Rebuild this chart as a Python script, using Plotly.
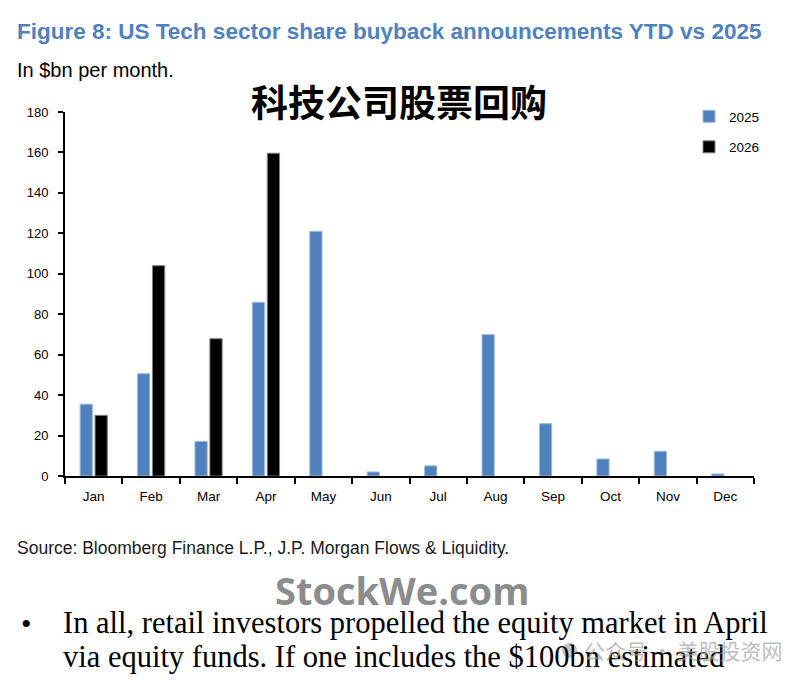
import plotly.graph_objects as go

months = ["Jan", "Feb", "Mar", "Apr", "May", "Jun", "Jul", "Aug", "Sep", "Oct", "Nov", "Dec"]
y2025 = [35.5, 50.6, 17.1, 85.9, 121.0, 2.0, 5.0, 69.9, 25.9, 8.4, 12.2, 1.0]
y2026 = [30.0, 104.0, 67.9, 159.6, None, None, None, None, None, None, None, None]
yticks = [0, 20, 40, 60, 80, 100, 120, 140, 160, 180]

OFF = 8  # page body margin
W, H = 806 - OFF, 683 - OFF
# plot area in reference-page pixels
L, R, T, B = 65, 754, 112, 476

def px(x):
    return (x - L) / (R - L)

def py(y):
    return (B - y) / (B - T)

SANS = "Liberation Sans, Arial"
SERIF = "Liberation Serif, Times New Roman"

fig = go.Figure()
fig.add_trace(go.Bar(x=months, y=y2025, name="2025", legendgroup="a",
                     marker=dict(color="#4F81BD", line=dict(color="#9DB9DE", width=1))))
fig.add_trace(go.Bar(x=months, y=y2026, name="2026", legendgroup="b",
                     marker=dict(color="#000000", line=dict(color="#7F7F7F", width=1))))

fig.update_layout(
    width=W, height=H,
    margin=dict(l=L - OFF, r=W - (R - OFF), t=T - OFF, b=H - (B - OFF), pad=0),
    paper_bgcolor="white", plot_bgcolor="white",
    barmode="group", bargap=0.48, bargroupgap=0.18,
    font=dict(family=SANS, size=13, color="#000000"),
    showlegend=True,
    legend=dict(x=px(689), y=py(101), xanchor="left", yanchor="top",
                font=dict(family=SANS, size=13.5, color="#000"),
                bgcolor="rgba(0,0,0,0)", itemwidth=30, tracegroupgap=10),
    xaxis=dict(showline=True, linecolor="black", linewidth=2, ticks="outside",
               tickson="boundaries", ticklen=6, tickwidth=2, tickcolor="black",
               showgrid=False, tickfont=dict(family=SANS, size=13.5),
               ticklabelstandoff=7),
    yaxis=dict(range=[0, 180], tickvals=yticks, showline=True, linecolor="black",
               linewidth=2, ticks="outside", ticklen=5, tickwidth=1.5, tickcolor="black",
               showgrid=False, zeroline=False, tickfont=dict(family=SANS, size=13),
               ticklabelstandoff=7),
)

ann = []
def add(text, x, y, size, family=SANS, color="#000", xanchor="left"):
    ann.append(dict(text=text, x=px(x), y=py(y), xref="paper", yref="paper",
                    xanchor=xanchor, yanchor="middle", showarrow=False,
                    font=dict(family=family, size=size, color=color)))

add("<b>Figure 8: US Tech sector share buyback announcements YTD vs 2025</b>", 15, 32, 22.5,
    color="#4F81BD")
add("In $bn per month.", 15, 70, 20)
add("<b>科技公司股票回购</b>", 399, 101, 37, family="Noto Sans CJK SC", xanchor="center")
add("Source: Bloomberg Finance L.P., J.P. Morgan Flows & Liquidity.", 15, 548, 17.5, color="#1A1A1A")
add("<b>StockWe.com</b>", 402, 590, 38, family="Open Sans", color="#8C8C8C", xanchor="center")
add("•", 26, 623, 30, family=SERIF, xanchor="center")
add("In all, retail investors propelled the equity market in April", 61, 623, 30.5, family=SERIF)
add("via equity funds. If one includes the $100bn estimated", 61, 657, 30.5, family=SERIF)
add("公众号 · 美股投资网", 582, 650, 21, family="Noto Sans CJK SC", color="rgba(160,160,160,0.7)")
fig.update_layout(annotations=ann)

fig.add_shape(type="circle", xref="paper", yref="paper",
              x0=px(562), x1=px(577), y0=py(643), y1=py(658),
              fillcolor="rgba(160,160,160,0.6)", line=dict(width=0), layer="above")

fig.write_html("out.html")
